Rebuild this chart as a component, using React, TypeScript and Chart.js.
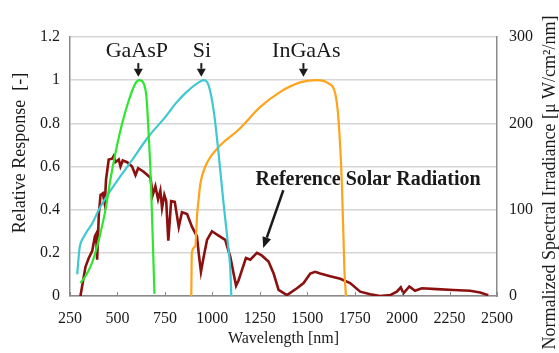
import { useEffect, useRef } from "react";
import { Chart, registerables } from "chart.js";

Chart.register(...registerables);

// ---- Data ----
const gaaspWl = [305, 330, 358, 380, 402, 437, 463, 489, 525, 560, 595, 616, 638, 653, 665, 674, 683, 695];
const gaaspResp = [0.06, 0.09, 0.136, 0.19, 0.26, 0.4, 0.54, 0.66, 0.8, 0.907, 0.985, 1.0, 0.985, 0.92, 0.74, 0.58, 0.35, 0.01];

const siWl = [288, 300, 308, 320, 340, 367, 402, 472, 577, 665, 753, 805, 858, 928, 954, 980, 1007, 1033, 1059, 1086, 1095, 1100];
const siResp = [0.1, 0.22, 0.25, 0.27, 0.3, 0.336, 0.4, 0.5, 0.63, 0.74, 0.83, 0.89, 0.94, 0.99, 1.0, 0.977, 0.86, 0.66, 0.43, 0.21, 0.12, 0.0];

const ingaasWl = [889, 892, 910, 920, 928, 937, 963, 1033, 1138, 1253, 1358, 1463, 1551, 1612, 1647, 1665, 1683, 1696, 1704];
const ingaasResp = [0.0, 0.2, 0.23, 0.38, 0.45, 0.52, 0.6, 0.69, 0.77, 0.876, 0.946, 0.99, 1.0, 0.985, 0.94, 0.815, 0.51, 0.12, 0.0];

const solarWl = [305, 332, 349, 367, 381, 388, 393, 402, 411, 423, 433, 440, 454, 472, 480, 489, 507, 516, 528, 551, 577, 595, 609, 638, 674, 686, 700, 714, 726, 735, 747, 757, 768, 783, 802, 823, 840, 867, 893, 919, 928, 940, 954, 972, 998, 1033, 1068, 1095, 1112, 1125, 1138, 1156, 1177, 1200, 1235, 1260, 1296, 1323, 1349, 1393, 1446, 1481, 1516, 1542, 1568, 1621, 1674, 1726, 1779, 1832, 1884, 1937, 1972, 1993, 2007, 2038, 2068, 2104, 2183, 2270, 2358, 2411, 2454];
const solarIrr = [0, 34, 44, 52, 69, 72, 42, 95, 117, 119, 107, 135, 158, 159, 162, 155, 158, 150, 157, 155, 150, 140, 148, 144, 137, 117, 127, 112, 122, 102, 117, 110, 64, 110, 109, 80, 97, 95, 80, 69, 50, 28, 45, 65, 75, 70, 65, 45, 26, 12, 18, 30, 44, 42, 50, 47, 40, 26, 7, 1, 9, 15, 26, 28, 26, 23, 20, 15, 5, 2, 0, 1, 5, 10, 3, 11, 6, 9, 8, 7, 6, 4, 1];

const xTickStep = 250;
const respTickStep = 0.2;
const irrTickStep = 100;

// Annotation anchors (data coordinates)
const sensorLabels = [
  { text: "GaAsP", wl: 602, arrowWl: 610 },
  { text: "Si", wl: 945, arrowWl: 942 },
  { text: "InGaAs", wl: 1495, arrowWl: 1480 },
];
const solarLabel = { text: "Reference Solar Radiation", wl: 1821, resp: 0.514 };
const solarArrow = { fromWl: 1374, fromResp: 0.49, toWl: 1268, toResp: 0.222 };

const SERIF = "'Liberation Serif', 'Times New Roman', serif";
const TEXT = "#1a1a1a";

function pts(xs: number[], ys: number[]) {
  return xs.map((x, i) => ({ x, y: ys[i] }));
}

function arrow(ctx: CanvasRenderingContext2D, x1: number, y1: number, x2: number, y2: number, hl: number, hw: number) {
  const ang = Math.atan2(y2 - y1, x2 - x1);
  const bx = x2 - hl * Math.cos(ang);
  const by = y2 - hl * Math.sin(ang);
  ctx.beginPath();
  ctx.moveTo(x1, y1);
  ctx.lineTo(bx, by);
  ctx.stroke();
  ctx.beginPath();
  ctx.moveTo(x2, y2);
  ctx.lineTo(bx + (hw / 2) * Math.sin(ang), by - (hw / 2) * Math.cos(ang));
  ctx.lineTo(bx - (hw / 2) * Math.sin(ang), by + (hw / 2) * Math.cos(ang));
  ctx.closePath();
  ctx.fill();
}

const annotPlugin = {
  id: "annot",
  afterDatasetsDraw(chart: any) {
    const { ctx, chartArea } = chart;
    const x = chart.scales.x;
    const y = chart.scales.y;
    ctx.save();
    // inner x ticks
    ctx.strokeStyle = "#8a8a8a";
    ctx.lineWidth = 1;
    x.ticks.forEach((t: any) => {
      const px = Math.round(x.getPixelForValue(t.value)) + 0.5;
      ctx.beginPath();
      ctx.moveTo(px, chartArea.bottom);
      ctx.lineTo(px, chartArea.bottom - 4);
      ctx.stroke();
    });

    ctx.fillStyle = TEXT;
    ctx.strokeStyle = TEXT;
    ctx.textAlign = "center";
    ctx.textBaseline = "alphabetic";
    ctx.font = `22px ${SERIF}`;
    sensorLabels.forEach((l) => {
      ctx.fillText(l.text, x.getPixelForValue(l.wl), y.getPixelForValue(1.106));
      const ax = x.getPixelForValue(l.arrowWl);
      ctx.lineWidth = 2;
      arrow(ctx, ax, y.getPixelForValue(1.079), ax, y.getPixelForValue(1.016), 8, 9);
    });

    ctx.font = `bold 20px ${SERIF}`;
    ctx.fillText(solarLabel.text, x.getPixelForValue(solarLabel.wl), y.getPixelForValue(solarLabel.resp));
    ctx.lineWidth = 2.5;
    arrow(
      ctx,
      x.getPixelForValue(solarArrow.fromWl),
      y.getPixelForValue(solarArrow.fromResp),
      x.getPixelForValue(solarArrow.toWl),
      y.getPixelForValue(solarArrow.toResp),
      11,
      9
    );

    // axis titles (both read bottom-to-top)
    ctx.font = `18px ${SERIF}`;
    ctx.textBaseline = "middle";
    ctx.save();
    ctx.translate(20, 153);
    ctx.rotate(-Math.PI / 2);
    ctx.fillText("Relative Response  [-]", 0, 0);
    ctx.restore();
    ctx.save();
    ctx.translate(550, 182.5);
    ctx.rotate(-Math.PI / 2);
    ctx.fillText("Normalized Spectral Irradiance [\u03bc W/cm\u00b2/nm]", 0, 0);
    ctx.restore();
    ctx.restore();
  },
};

export default function App() {
  const ref = useRef<HTMLCanvasElement | null>(null);
  useEffect(() => {
    document.body.style.margin = "0";
    const canvas = ref.current;
    if (!canvas) return;
    const line = (label: string, data: any, color: string, width: number, axis: string, smooth: boolean) => ({
      label,
      data,
      borderColor: color,
      backgroundColor: color,
      borderWidth: width,
      pointRadius: 0,
      fill: false,
      yAxisID: axis,
      cubicInterpolationMode: smooth ? ("monotone" as const) : ("default" as const),
      tension: 0,
    });
    const chart = new Chart(canvas, {
      type: "line",
      data: {
        datasets: [
          line("GaAsP", pts(gaaspWl, gaaspResp), "#2ee62e", 2.2, "y", true),
          line("Si", pts(siWl, siResp), "#40c8d0", 2.2, "y", true),
          line("InGaAs", pts(ingaasWl, ingaasResp), "#ffa31a", 2.2, "y", true),
          line("Reference Solar Radiation", pts(solarWl, solarIrr), "#8b1010", 2.6, "y1", false),
        ],
      },
      options: {
        responsive: false,
        animation: false,
        devicePixelRatio: 1,
        layout: { padding: { top: 37, left: 0, right: 0, bottom: 0 } },
        plugins: { legend: { display: false }, tooltip: { enabled: false } },
        scales: {
          x: {
            type: "linear",
            min: 250,
            max: 2500,
            afterFit: (s: any) => {
              s.height = 57;
            },
            ticks: {
              stepSize: xTickStep,
              padding: 13,
              color: TEXT,
              font: { family: SERIF, size: 16 },
              callback: (v: any) => String(Math.round(Number(v))),
            },
            grid: { display: false, drawTicks: false },
            border: { display: true, color: "#8a8a8a", width: 1.5 },
            title: {
              display: true,
              text: "Wavelength [nm]",
              color: TEXT,
              font: { family: SERIF, size: 16 },
              padding: { top: 0, bottom: 5 },
            },
          },
          y: {
            type: "linear",
            position: "left",
            min: 0,
            max: 1.2,
            afterFit: (s: any) => {
              s.width = 70;
            },
            ticks: {
              stepSize: respTickStep,
              padding: 10,
              color: TEXT,
              font: { family: SERIF, size: 16 },
              callback: (v: any) => String(Math.round(Number(v) * 10) / 10),
            },
            grid: { color: "#d6d6d6", lineWidth: 1.5, drawTicks: false },
            border: { display: true, color: "#8a8a8a", width: 1.5 },
          },
          y1: {
            type: "linear",
            position: "right",
            min: 0,
            max: 300,
            afterFit: (s: any) => {
              s.width = 62;
            },
            ticks: { stepSize: irrTickStep, padding: 12, color: TEXT, font: { family: SERIF, size: 16 } },
            grid: { display: false, drawTicks: false },
            border: { display: true, color: "#8a8a8a", width: 1.5 },
          },
        },
      },
      plugins: [annotPlugin],
    } as any);
    return () => chart.destroy();
  }, []);
  return (
    <div style={{ width: 559, height: 353 }}>
      <canvas ref={ref} width={559} height={353} style={{ display: "block" }} />
    </div>
  );
}
